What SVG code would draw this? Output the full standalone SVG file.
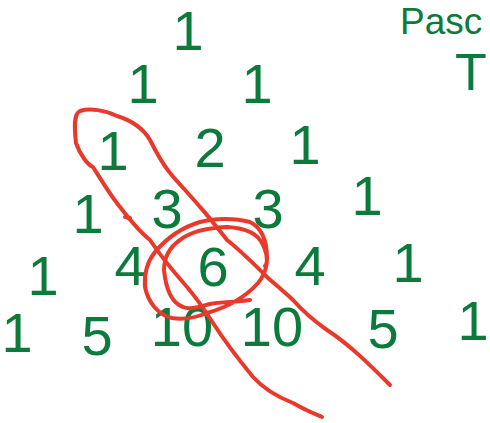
<svg xmlns="http://www.w3.org/2000/svg" width="490" height="423" viewBox="0 0 490 423">
<style>
.n{font-family:"Liberation Sans",Arial,sans-serif;font-size:56px;fill:#0b7a3b;text-anchor:middle}
.t{font-family:"Liberation Sans",Arial,sans-serif;fill:#0b7a3b}
.r{fill:none;stroke:#e8392a;stroke-width:4;stroke-linecap:round;stroke-linejoin:round}
</style>
<rect width="490" height="423" fill="#ffffff"/>
<g id="title">
<text class="t" x="400" y="34" font-size="37">Pasc</text>
<text class="t" x="455" y="90" font-size="52">T</text>
</g>
<g id="row0"><text class="n" x="188" y="50">1</text></g>
<g id="row1"><text class="n" x="143" y="103">1</text><text class="n" x="257" y="103">1</text></g>
<g id="row2"><text class="n" x="113" y="170">1</text><text class="n" x="210" y="167">2</text><text class="n" x="305" y="164">1</text></g>
<g id="row3"><text class="n" x="88" y="233">1</text><text class="n" x="167" y="228">3</text><text class="n" x="268" y="228">3</text><text class="n" x="367" y="215">1</text></g>
<g id="row4"><text class="n" x="43" y="295">1</text><text class="n" x="130" y="285">4</text><text class="n" x="213" y="286">6</text><text class="n" x="310" y="285">4</text><text class="n" x="408" y="282">1</text></g>
<g id="row5"><text class="n" x="17" y="352">1</text><text class="n" x="97" y="355">5</text><text class="n" x="182" y="346">10</text><text class="n" x="272" y="346">10</text><text class="n" x="383" y="348">5</text><text class="n" x="473" y="340">1</text></g>
<g id="loops">
<path class="r" d="M390,385 C370,365 350,345 327,330 C310,318 300,308 293,300 C280,288 270,280 267,277 C255,265 240,250 227,240 C215,225 205,212 200,207 C190,195 180,185 170,173 C162,163 155,150 150,140 C143,128 130,120 117,116 C105,110 90,108 80,111 C74,114 74,125 76,143 C80,155 88,165 93,167 C100,178 110,195 120,207 C130,220 140,232 150,240 C160,255 172,270 187,287 C198,300 206,312 213,323 C222,337 235,355 253,377 C263,388 275,396 293,403 C305,410 315,414 322,417"/>
<path class="r" d="M125,217 L130,218"/>
<path class="r" d="M250,300 C235,302 220,302 210,304 C198,307 190,310 183,307 C172,303 166,290 164,270 C164,258 170,247 180,240 C190,232 205,228 227,227 C245,228 258,233 263,245 C270,258 267,272 258,283 C250,292 235,305 207,313 C195,318 185,320 172,318 C158,315 148,302 145,287 C144,273 147,262 155,252 C165,240 180,228 200,222 C215,218 235,218 250,222 C262,228 267,240 267,258 C267,263 266,265 265,266"/>
</g>
</svg>
